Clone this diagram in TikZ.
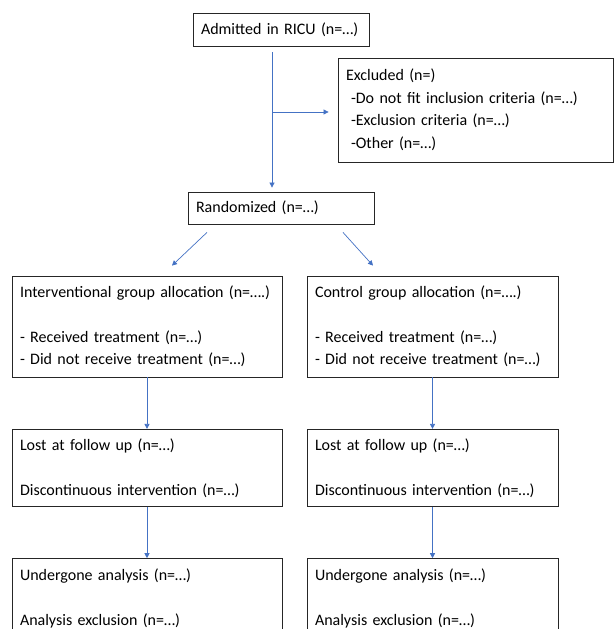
\documentclass[tikz,border=0pt]{standalone}
\usepackage{fontspec}
\setmainfont{Carlito}
\usepackage{tikz}
\usetikzlibrary{arrows.meta,positioning}
\definecolor{wordblue}{HTML}{4472C4}

\begin{document}
\begin{tikzpicture}[x=1pt,y=-1pt,
            box/.style={draw=black!85,line width=0.8pt,align=left,inner xsep=8pt,inner ysep=2pt,
                        font=\fontsize{16}{22.5}\selectfont},
            arr/.style={draw=wordblue,line width=0.7pt,-{Triangle[length=5pt,width=5pt]}}]

            \useasboundingbox (0,0) rectangle (613,629);

            \node[box,text width=160pt,minimum height=33pt] (admit) at (281,29.5) {Admitted in RICU (n=…)};
            \node[box,text width=259pt,minimum height=104pt] (excl) at (475.5,110)
                  {Excluded (n=)\\
                   \hspace*{5pt}-Do not fit inclusion criteria (n=…)\\
                   \hspace*{5pt}-Exclusion criteria (n=…)\\
                   \hspace*{5pt}-Other (n=…)};
            \node[box,text width=170pt,minimum height=32pt] (rand) at (281,208) {Randomized (n=…)};

            \node[box,text width=254pt,minimum height=101pt] (allocI) at (147,326.5)
                  {Interventional group allocation (n=….)\\[22.5pt]
                   - Received treatment (n=…)\\
                   - Did not receive treatment (n=…)};
            \node[box,text width=235pt,minimum height=101pt] (allocC) at (432.5,326.5)
                  {Control group allocation (n=….)\\[22.5pt]
                   - Received treatment (n=…)\\
                   - Did not receive treatment (n=…)};

            \node[box,text width=254pt,minimum height=77pt] (lostI) [below=51.5pt of allocI]
                  {Lost at follow up (n=…)\\[22.5pt]
                   Discontinuous intervention (n=…)};
            \node[box,text width=235pt,minimum height=77pt] (lostC) [below=51.5pt of allocC]
                  {Lost at follow up (n=…)\\[22.5pt]
                   Discontinuous intervention (n=…)};

            \node[box,text width=254pt,minimum height=79pt] (analI) [below=51.5pt of lostI]
                  {Undergone analysis (n=…)\\[22.5pt]
                   Analysis exclusion (n=…)};
            \node[box,text width=235pt,minimum height=79pt] (analC) [below=51.5pt of lostC]
                  {Undergone analysis (n=…)\\[22.5pt]
                   Analysis exclusion (n=…)};

            \coordinate (split) at (272,112);

            \draw[arr] ([xshift=-9pt,yshift=-6pt]admit.south) -- ([xshift=-9pt,yshift=4pt]rand.north);
            \draw[arr,shorten >=9pt] (split) -- (split -| excl.west);
            \draw[arr] ([xshift=-74pt,yshift=-8pt]rand.south) -- ([xshift=25pt,yshift=10pt]allocI.north);
            \draw[arr] ([xshift=62pt,yshift=-8pt]rand.south) -- ([xshift=-59.5pt,yshift=10pt]allocC.north);

            \draw[arr] (allocI) -- (lostI);
            \draw[arr] (allocC) -- (lostC);
            \draw[arr] (lostI) -- (analI);
            \draw[arr] (lostC) -- (analC);

\end{tikzpicture}
\end{document}
